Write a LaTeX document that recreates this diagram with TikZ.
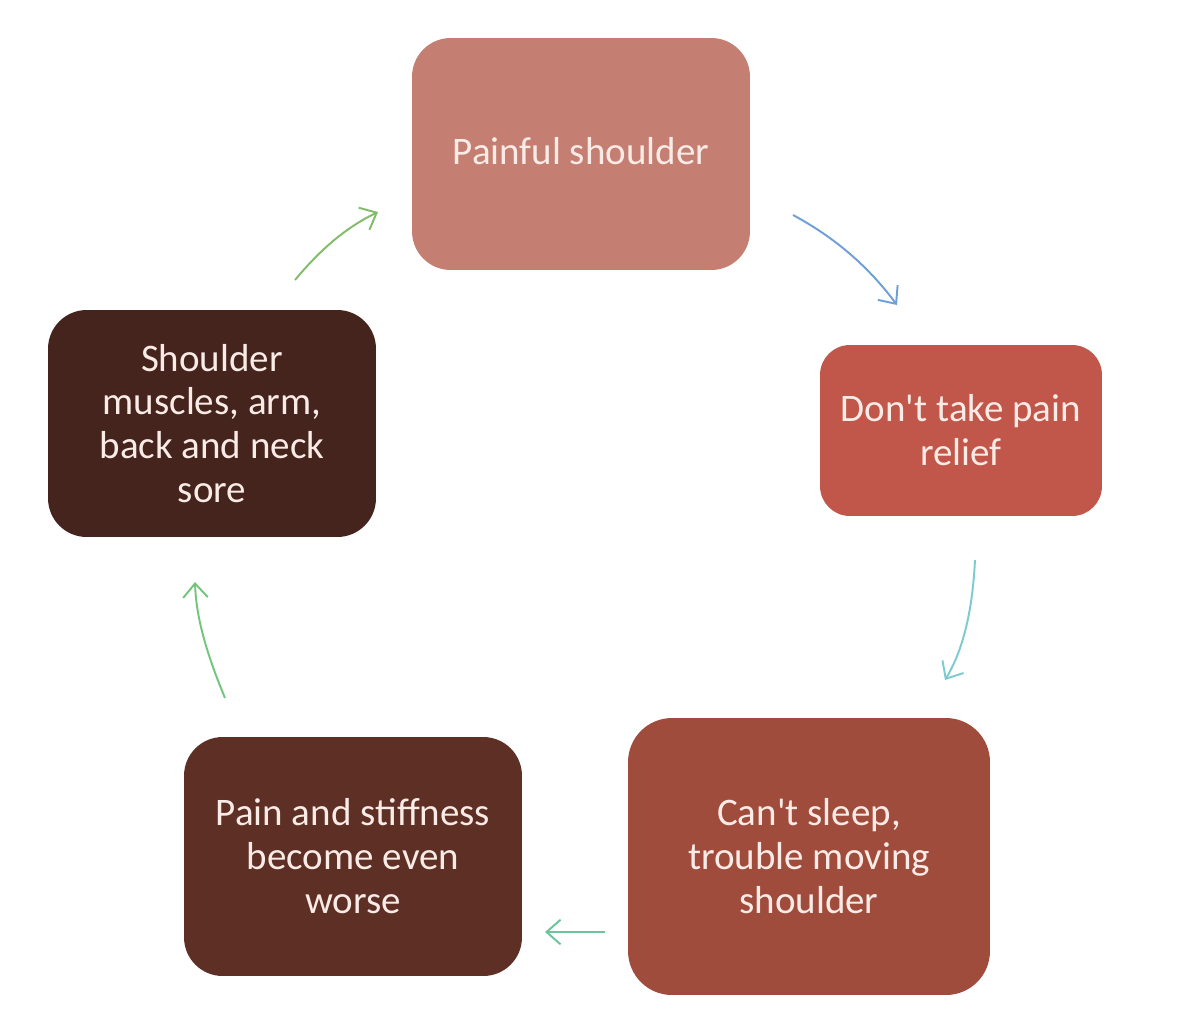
\documentclass[tikz,border=0pt]{standalone}
\usepackage{fontspec}
\setmainfont{Carlito}[Ligatures=TeXOff]
\usetikzlibrary{arrows.meta}

\definecolor{painA}{HTML}{C47E72}
\definecolor{painB}{HTML}{C0574A}
\definecolor{painC}{HTML}{A04C3D}
\definecolor{painD}{HTML}{5D2F25}
\definecolor{painE}{HTML}{45241D}
\definecolor{boxtext}{HTML}{FAEBE6}
\definecolor{arrblue}{HTML}{6E9FD6}
\definecolor{arrcyan}{HTML}{7CCBCF}
\definecolor{arrteal}{HTML}{6CC59A}
\definecolor{arrgreen}{HTML}{72C57C}
\definecolor{arrolive}{HTML}{80BC6A}

\begin{document}
\begin{tikzpicture}[x=0.02cm,y=-0.02cm,
    box/.style={rounded corners=22pt, inner sep=0pt, align=center, text=boxtext,
        font=\fontsize{22.2}{25}\selectfont},
    cycarrow/.style={line width=1.1pt, -{Straight Barb[length=8pt,width=14pt]}}]
    \fill[white] (0,0) rectangle (1186,1032);
    \useasboundingbox (0,0) rectangle (1186,1032);

    \node[box, fill=painA, minimum width=6.76cm, minimum height=4.64cm] (painful) at (581,154) {\raisebox{3pt}{Painful shoulder}};
    \node[box, fill=painB, minimum width=5.64cm, minimum height=3.42cm, rounded corners=17pt] (relief) at (961,430.5) {Don't take pain\\relief};
    \node[box, fill=painC, minimum width=7.24cm, minimum height=5.54cm, rounded corners=25pt] (sleep) at (809,856.5) {Can't sleep,\\trouble moving\\shoulder};
    \node[box, fill=painD, minimum width=6.76cm, minimum height=4.78cm] (worse) at (353,856.5) {Pain and stiffness\\become even\\worse};
    \node[box, fill=painE, minimum width=6.56cm, minimum height=4.54cm] (sore) at (212,423.5) {Shoulder\\muscles, arm,\\back and neck\\sore};

    \coordinate (ab) at (793,215);
    \coordinate (ae) at (897,305);
    \coordinate (bb) at (975,560);
    \coordinate (be) at (945,680);
    \coordinate (cb) at (605,932);
    \coordinate (ce) at (545,932);
    \coordinate (db) at (225,698);
    \coordinate (de) at (195,582);
    \coordinate (eb) at (295,280);
    \coordinate (ee) at (378,212);

    \draw[cycarrow, arrblue] (ab) .. controls (830,235) and (865,262) .. (ae);
    \draw[cycarrow, arrcyan] (bb) .. controls (972,620) and (960,655) .. (be);
    \draw[cycarrow, arrteal] (cb) -- (ce);
    \draw[cycarrow, arrgreen] (db) .. controls (205,650) and (196,615) .. (de);
    \draw[cycarrow, arrolive] (eb) .. controls (320,250) and (345,228) .. (ee);
\end{tikzpicture}
\end{document}
